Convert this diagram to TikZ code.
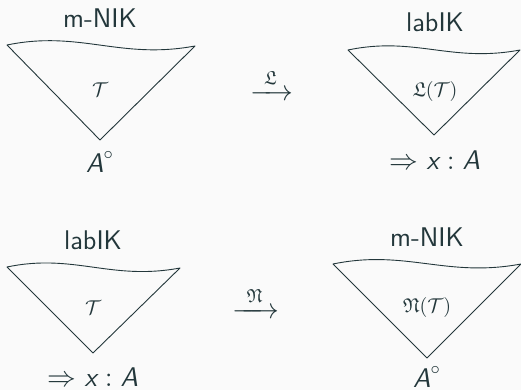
\documentclass[tikz,border=0pt]{standalone}
\usepackage{amsmath, amssymb}
\usepackage{fontspec}
\usepackage{tikz}
\usetikzlibrary{positioning}
\definecolor{darkteal}{HTML}{23373B}
\definecolor{slidebg}{HTML}{FAFAFA}
\tikzset{
    base/.style={text=darkteal, inner sep=1pt, font=\sffamily\fontsize{13.5}{16}\selectfont},
    inner/.style={base, font=\sffamily\fontsize{10}{12}\selectfont},
    tree/.style={draw=darkteal, line width=0.45pt, line join=round}
}

\begin{document}
\begin{tikzpicture}[x=0.5pt, y=-0.5pt]
\fill[slidebg] (0,0) rectangle (521,390);
\useasboundingbox (0,0) rectangle (521,390);
% top row
\coordinate (tl1) at (7,45);
\coordinate (tr1) at (195,46);
\coordinate (ap1) at (100,140);
\coordinate (tl2) at (348,50);
\coordinate (tr2) at (520,50);
\coordinate (ap2) at (434,135);
\draw[tree] (tl1) .. controls +(73,-15) and +(-75,14) .. (tr1) -- (ap1) -- cycle;
\draw[tree] (tl2) .. controls +(67,-14) and +(-69,13) .. (tr2) -- (ap2) -- cycle;
\node[base] (sys1) at (100,18) {m-NIK};
\node[inner] (der1) at (100,90) {$\mathcal{T}$};
\node[base] (end1) at (100,162) {$\textit{A}^\circ$};
\node[base] (sys2) at (435,22) {labIK};
\node[inner] (der2) at (435,92) {$\mathfrak{L}(\mathcal{T})$};
\node[base] (end2) at (435,160) {$\Rightarrow \textit{x} : \textit{A}$};
\node[base] (map1) at (272,85) {$\xrightarrow{\;\,\mathfrak{L}\,\;}$};
% bottom row
\coordinate (tl3) at (7,267);
\coordinate (tr3) at (180,268);
\coordinate (ap3) at (93,353);
\coordinate (tl4) at (333,264);
\coordinate (tr4) at (521,264);
\coordinate (ap4) at (427,358);
\draw[tree] (tl3) .. controls +(67,-14) and +(-69,13) .. (tr3) -- (ap3) -- cycle;
\draw[tree] (tl4) .. controls +(73,-15) and +(-75,14) .. (tr4) -- (ap4) -- cycle;
\node[base] (sys3) at (93,240) {labIK};
\node[inner] (der3) at (93,308) {$\mathcal{T}$};
\node[base] (end3) at (93,377) {$\Rightarrow \textit{x} : \textit{A}$};
\node[base] (sys4) at (427,237) {m-NIK};
\node[inner] (der4) at (427,308) {$\mathfrak{N}(\mathcal{T})$};
\node[base] (end4) at (427,377) {$\textit{A}^\circ$};
\node[base] (map2) at (256,303) {$\xrightarrow{\;\,\mathfrak{N}\,\;}$};
\end{tikzpicture}
\end{document}
